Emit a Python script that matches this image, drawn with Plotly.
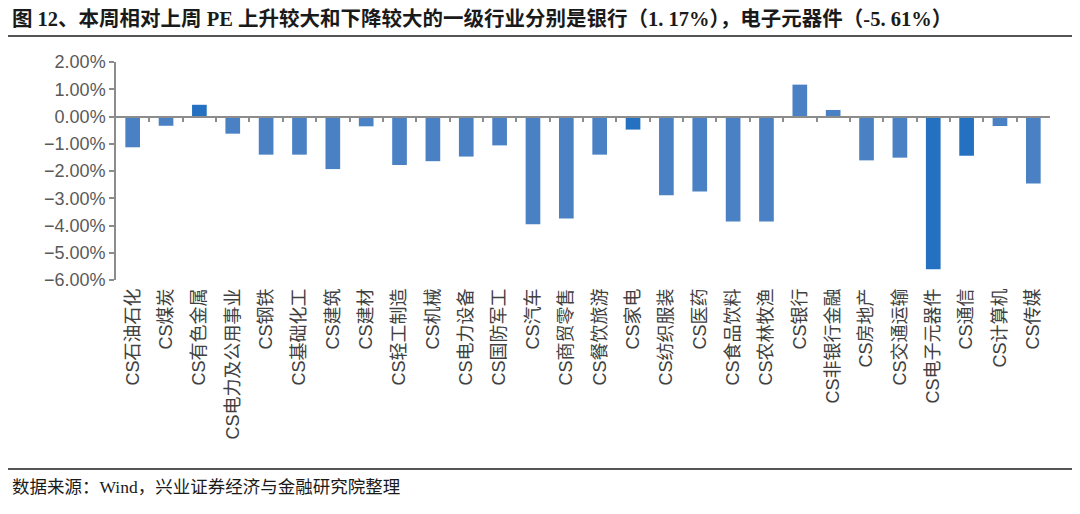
import plotly.graph_objects as go

categories = ["CS石油石化", "CS煤炭", "CS有色金属", "CS电力及公用事业", "CS钢铁", "CS基础化工",
              "CS建筑", "CS建材", "CS轻工制造", "CS机械", "CS电力设备", "CS国防军工",
              "CS汽车", "CS商贸零售", "CS餐饮旅游", "CS家电", "CS纺织服装", "CS医药",
              "CS食品饮料", "CS农林牧渔", "CS银行", "CS非银行金融", "CS房地产", "CS交通运输",
              "CS电子元器件", "CS通信", "CS计算机", "CS传媒"]
values = [-1.13, -0.34, 0.43, -0.63, -1.40, -1.40,
          -1.93, -0.36, -1.78, -1.64, -1.47, -1.06,
          -3.95, -3.74, -1.40, -0.48, -2.89, -2.75,
          -3.85, -3.85, 1.17, 0.24, -1.61, -1.51,
          -5.61, -1.44, -0.35, -2.46]
highlight = ["CS有色金属", "CS家电", "CS电子元器件", "CS通信"]

title_text = "图 12、本周相对上周 PE 上升较大和下降较大的一级行业分别是银行（1. 17%），电子元器件（-5. 61%）"
source_text = "数据来源：Wind，兴业证券经济与金融研究院整理"

normal_color = "#4A81C4"
dark_color = "#2471C1"
colors = [dark_color if c in highlight else normal_color for c in categories]

n = len(categories)
OFF = 8  # page body margin
W, H = 1080 - 2 * OFF, 514 - 2 * OFF
# screen-pixel plot box
sx0, sx1, sy0, sy1 = 116, 1050, 62, 280
ml, mr = sx0 - OFF, W - (sx1 - OFF)
mt, mb = sy0 - OFF, H - (sy1 - OFF)
pw = sx1 - sx0
ph = sy1 - sy0

def px_x(p):
    return (p - sx0) / pw

def px_y(p):
    return (sy1 - p) / ph

fig = go.Figure()
fig.add_trace(go.Bar(x=list(range(n)), y=values, marker=dict(color=colors, line=dict(width=0)),
                     hoverinfo="x+y", showlegend=False))
fig.add_trace(go.Scatter(x=list(range(n)), y=[0] * n, xaxis="x2", mode="markers",
                         marker=dict(size=0, opacity=0), hoverinfo="skip", showlegend=False))

axis_gray = "#8C8C8C"
fig.update_layout(
    width=W, height=H,
    margin=dict(l=ml, r=mr, t=mt, b=mb),
    paper_bgcolor="white", plot_bgcolor="white",
    bargap=0.56,
    xaxis=dict(range=[-0.5, n - 0.5], tickmode="array", tickvals=list(range(n)), ticktext=categories,
               tickangle=-90, showline=False, ticks="", showgrid=False, zeroline=False,
               ticklabelstandoff=4,
               tickfont=dict(family="Liberation Sans, Noto Sans CJK SC", size=18, color="#404040")),
    xaxis2=dict(overlaying="x", anchor="free", position=0.75, range=[-0.5, n - 0.5],
                tickmode="array", tickvals=[i + 0.5 for i in range(n - 1)],
                showticklabels=False, ticks="outside", ticklen=5, tickwidth=1.5, tickcolor=axis_gray,
                showline=True, linecolor=axis_gray, linewidth=1.5, showgrid=False, zeroline=False),
    yaxis=dict(range=[-6, 2], dtick=1, tickformat=".2f", ticksuffix="%", showgrid=False,
               zeroline=False, showline=True, linecolor=axis_gray, linewidth=1.5,
               ticks="outside", ticklen=5, tickwidth=1.5, tickcolor=axis_gray,
               tickfont=dict(family="Liberation Sans, Arial", size=18, color="#595959")),
    font=dict(family="Liberation Sans, Noto Sans CJK SC"),
)

fig.add_annotation(text="<b>" + title_text + "</b>", xref="paper", yref="paper", x=px_x(10), y=px_y(18),
                   xanchor="left", yanchor="middle", showarrow=False,
                   font=dict(family="Liberation Serif, Noto Sans CJK SC", size=20.5, color="#1a1a1a"))
fig.add_annotation(text=source_text, xref="paper", yref="paper", x=px_x(10), y=px_y(487),
                   xanchor="left", yanchor="middle", showarrow=False,
                   font=dict(family="Liberation Serif, Noto Sans CJK SC", size=17.5, color="#1a1a1a"))
fig.add_shape(type="line", xref="paper", yref="paper", x0=px_x(8), x1=px_x(1073),
              y0=px_y(36), y1=px_y(36), line=dict(color="#555555", width=2))
fig.add_shape(type="line", xref="paper", yref="paper", x0=px_x(8), x1=px_x(1073),
              y0=px_y(469), y1=px_y(469), line=dict(color="#555555", width=2))

fig.write_html("out.html")
